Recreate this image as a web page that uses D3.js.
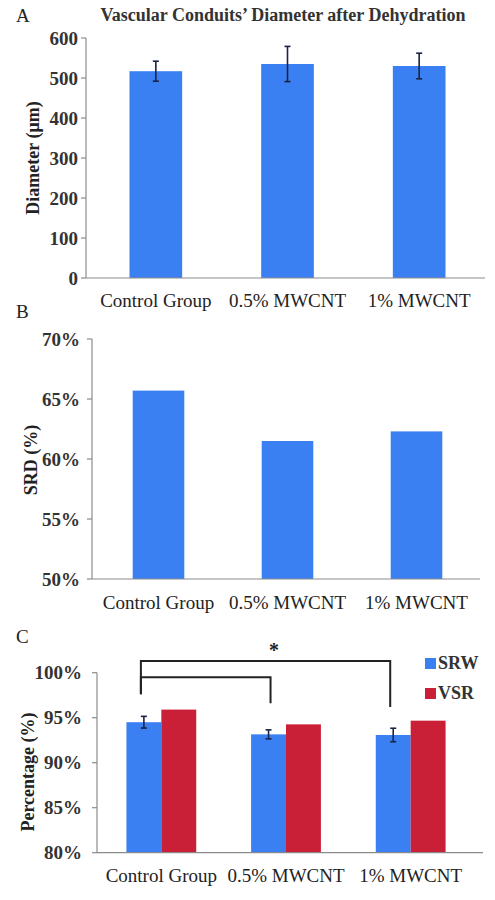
<!DOCTYPE html>
<html><head><meta charset="utf-8">
<script src="https://cdn.jsdelivr.net/npm/d3@7"></script>
<style>
body{margin:0;background:#fff;}
text{font-family:"Liberation Serif","Times New Roman",serif;}
</style></head>
<body>
<script>
// ---- data ----
const categories = ["Control Group", "0.5% MWCNT", "1% MWCNT"];
const diameterMean = [517, 535, 530];
const diameterErr = [25, 44, 32];
const diameterTicks = [0, 100, 200, 300, 400, 500, 600];
const srdValues = [0.657, 0.615, 0.623];
const srdTicks = [0.50, 0.55, 0.60, 0.65, 0.70];
const seriesC = ["SRW", "VSR"];
const srwValues = [0.945, 0.9315, 0.9308];
const srwErr = [0.0065, 0.005, 0.0075];
const vsrValues = [0.959, 0.9426, 0.9467];
const pctTicks = [0.80, 0.85, 0.90, 0.95, 1.00];
// significance brackets: [fromCat, toCat, level, leftLegEnd, rightLegEnd]
const brackets = [
  ["Control Group", "1% MWCNT", 1.013, 0.976, 0.962],
  ["Control Group", "0.5% MWCNT", 0.995, 0.976, 0.966]
];

const W = 495, H = 900;
const BLUE = "#3b80f2", RED = "#c91f37", AX = "#8c8c8c", TXT = "#222", ERR = "#1c2244";
const svg = d3.select("body").append("svg").attr("width", W).attr("height", H);
const pct = d3.format(".0%");

function yAxis(g, y, x0, ticks, fmt, labelPad) {
  g.append("line").attr("x1", x0).attr("x2", x0).attr("y1", y.range()[0]).attr("y2", y.range()[1])
    .attr("stroke", AX).attr("stroke-width", 1.2);
  ticks.forEach(t => {
    g.append("line").attr("x1", x0 - 5).attr("x2", x0).attr("y1", y(t)).attr("y2", y(t))
      .attr("stroke", AX).attr("stroke-width", 1.2);
    g.append("text").attr("x", x0 - labelPad).attr("y", y(t)).attr("dy", "0.35em")
      .attr("text-anchor", "end").attr("font-size", 19).attr("font-weight", "bold")
      .attr("fill", "#333").text(fmt(t));
  });
}
function xAxis(g, x, y0, x1, x2, labelY) {
  g.append("line").attr("x1", x1).attr("x2", x2).attr("y1", y0).attr("y2", y0)
    .attr("stroke", AX).attr("stroke-width", 1.2);
  categories.forEach(c => {
    g.append("text").attr("x", x(c) + x.bandwidth() / 2).attr("y", labelY)
      .attr("text-anchor", "middle").attr("font-size", 19).attr("fill", TXT).text(c);
  });
}
function yLabel(g, text, cx, cy) {
  g.append("text").attr("transform", `translate(${cx},${cy}) rotate(-90)`)
    .attr("text-anchor", "middle").attr("dy", "0.35em").attr("font-size", 18)
    .attr("font-weight", "bold").attr("fill", TXT).text(text);
}
function panelLabel(t, x, y) {
  svg.append("text").attr("x", x).attr("y", y).attr("font-size", 19).attr("fill", TXT).text(t);
}
function errBar(g, cx, yTop, yBot) {
  g.append("line").attr("x1", cx).attr("x2", cx).attr("y1", yTop).attr("y2", yBot)
    .attr("stroke", ERR).attr("stroke-width", 1.6);
  [yTop, yBot].forEach(yy => g.append("line").attr("x1", cx - 3).attr("x2", cx + 3)
    .attr("y1", yy).attr("y2", yy).attr("stroke", ERR).attr("stroke-width", 1.6));
}

// ---- Panel A ----
{
  const g = svg.append("g");
  const x = d3.scaleBand().domain(categories).range([90, 485]).paddingInner(0.6).paddingOuter(0.3);
  const y = d3.scaleLinear().domain([0, 600]).range([278, 38]);
  panelLabel("A", 16, 22);
  g.append("text").attr("x", 283).attr("y", 21).attr("text-anchor", "middle")
    .attr("font-size", 18).attr("font-weight", "bold").attr("fill", "#333")
    .text("Vascular Conduits\u2019 Diameter after Dehydration");
  g.selectAll("rect").data(categories).join("rect")
    .attr("x", d => x(d)).attr("width", x.bandwidth())
    .attr("y", (d, i) => y(diameterMean[i])).attr("height", (d, i) => y(0) - y(diameterMean[i]))
    .attr("fill", BLUE);
  categories.forEach((c, i) => errBar(g, x(c) + x.bandwidth() / 2,
    y(diameterMean[i] + diameterErr[i]), y(diameterMean[i] - diameterErr[i])));
  yAxis(g, y, 86, diameterTicks, d => d, 8);
  xAxis(g, x, 278, 86, 485, 307);
  yLabel(g, "Diameter (\u03bcm)", 33, 158);
}

// ---- Panel B ----
{
  const g = svg.append("g");
  const x = d3.scaleBand().domain(categories).range([94, 481]).paddingInner(0.6).paddingOuter(0.3);
  const y = d3.scaleLinear().domain([0.5, 0.7]).range([579, 339]);
  panelLabel("B", 16, 318);
  g.selectAll("rect").data(categories).join("rect")
    .attr("x", d => x(d)).attr("width", x.bandwidth())
    .attr("y", (d, i) => y(srdValues[i])).attr("height", (d, i) => y(0.5) - y(srdValues[i]))
    .attr("fill", BLUE);
  yAxis(g, y, 92, srdTicks, pct, 12);
  xAxis(g, x, 579, 92, 480, 609);
  yLabel(g, "SRD (%)", 31, 460);
}

// ---- Panel C ----
{
  const g = svg.append("g");
  const x0 = d3.scaleBand().domain(categories).range([99, 473]).paddingInner(0.44).paddingOuter(0.22);
  const x1 = d3.scaleBand().domain(seriesC).range([0, x0.bandwidth()]);
  const y = d3.scaleLinear().domain([0.8, 1.0]).range([852.7, 672.7]);
  panelLabel("C", 16, 643);
  const vals = {SRW: srwValues, VSR: vsrValues};
  const col = {SRW: BLUE, VSR: RED};
  categories.forEach((c, i) => {
    seriesC.forEach(s => {
      g.append("rect").attr("x", x0(c) + x1(s)).attr("width", x1.bandwidth())
        .attr("y", y(vals[s][i])).attr("height", y(0.8) - y(vals[s][i])).attr("fill", col[s]);
    });
    errBar(g, x0(c) + x1("SRW") + x1.bandwidth() / 2, y(srwValues[i] + srwErr[i]), y(srwValues[i] - srwErr[i]));
  });
  yAxis(g, y, 97, pctTicks, pct, 15);
  xAxis(g, x0, 852.7, 97, 483, 882);
  yLabel(g, "Percentage (%)", 28, 772);
  // brackets
  const bx = c => x0(c) + x1("SRW") + x1.bandwidth() / 2 - 3;
  brackets.forEach(([a, b, lvl, la, lb]) => {
    const xa = bx(a), xb = bx(b) + (b === "1% MWCNT" ? 0 : 5);
    g.append("path").attr("d", `M${xa},${y(la)}V${y(lvl)}H${xb}V${y(lb)}`)
      .attr("fill", "none").attr("stroke", "#222").attr("stroke-width", 2);
  });
  g.append("text").attr("x", x0("0.5% MWCNT") + x0.bandwidth() / 2 - 12).attr("y", 657)
    .attr("text-anchor", "middle").attr("font-size", 20).attr("font-weight", "bold")
    .attr("fill", TXT).text("*");
  // legend
  seriesC.forEach((s, i) => {
    const ly = 663 + i * 30;
    g.append("rect").attr("x", 425).attr("y", ly - 5).attr("width", 11).attr("height", 11).attr("fill", col[s]);
    g.append("text").attr("x", 438).attr("y", ly).attr("dy", "0.35em").attr("font-size", 18)
      .attr("font-weight", "bold").attr("fill", "#333").text(s);
  });
}
</script>
</body></html>
